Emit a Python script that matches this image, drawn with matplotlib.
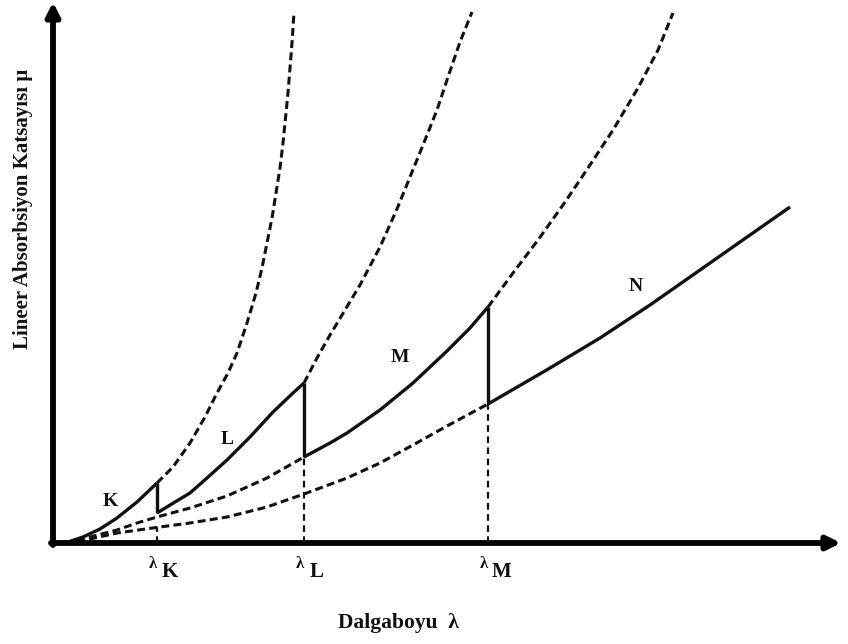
import matplotlib.pyplot as plt

# values, arbitrary units (origin at the axis corner)
k_solid_x = [12, 30, 47, 64, 84, 104]
k_solid_y = [0, 6, 14, 25, 41, 60]
k_dash_x = [104, 120, 137, 152, 164, 175, 184, 194, 203, 209, 214, 219, 223, 227, 230, 235, 239, 241]
k_dash_y = [60, 76, 100, 126, 150, 170, 190, 220, 250, 275, 300, 325, 350, 375, 400, 450, 500, 531]

l_solid_x = [104, 122, 137, 154, 174, 197, 220, 240, 251]
l_solid_y = [30, 41, 50, 65, 83, 106, 131, 150, 160]
l_dash_x = [251, 264, 277, 292, 307, 327, 344, 357, 370, 384, 395, 407, 419]
l_dash_y = [160, 185, 208, 233, 258, 296, 334, 366, 398, 433, 466, 501, 531]

m_low_x = [12, 37, 64, 84, 104, 137, 174, 214, 251]
m_low_y = [0, 6, 13, 20, 26, 35, 47, 65, 86]
m_solid_x = [251, 277, 294, 327, 360, 394, 417, 435]
m_solid_y = [86, 100, 110, 133, 160, 192, 215, 236]
m_dash_x = [435, 460, 485, 510, 535, 560, 585, 605, 620]
m_dash_y = [236, 270, 303, 338, 375, 413, 455, 493, 530]

n_low_x = [12, 37, 64, 107, 137, 174, 214, 251, 294, 327, 360, 394, 435]
n_low_y = [0, 4, 10, 16, 20, 26, 36, 49, 65, 80, 98, 117, 139]
n_solid_x = [435, 497, 547, 597, 647, 697, 737]
n_solid_y = [139, 175, 205, 238, 273, 308, 336]

# absorption edges: wavelength, bottom and top of the jump
edge_names = ['K', 'L', 'M']
edge_x = [104, 251, 435]
edge_low = [30, 86, 139]
edge_high = [60, 160, 236]
edge_guide_top = [16, 86, 139]

curve_labels = ['K', 'L', 'M', 'N']
curve_label_x = [57, 174, 347, 583]
curve_label_y = [42, 104, 185, 257]

font = 'Liberation Serif'
ink = '#111111'

fig = plt.figure(figsize=(8.48, 6.44), dpi=100)
ax = fig.add_axes([0, 0, 1, 1])
ax.set_xlim(-53, 795)
ax.set_ylim(-101, 543)
ax.axis('off')

dash = dict(color=ink, lw=2.2, linestyle=(0, (2.6, 1.4)))
solid = dict(color=ink, lw=2.4, solid_capstyle='butt', solid_joinstyle='round')

# dashed curves first, solid path on top
ax.plot(k_dash_x, k_dash_y, **dash)
ax.plot(l_dash_x, l_dash_y, **dash)
ax.plot(m_dash_x, m_dash_y, **dash)
ax.plot(m_low_x, m_low_y, **dash)
ax.plot(n_low_x, n_low_y, **dash)

for xe, top in zip(edge_x, edge_guide_top):
    ax.plot([xe, xe], [0, top], color=ink, lw=1.6, linestyle=(0, (3, 2)))

ax.plot(k_solid_x, k_solid_y, **solid)
ax.plot(l_solid_x, l_solid_y, **solid)
ax.plot(m_solid_x, m_solid_y, **solid)
ax.plot(n_solid_x, n_solid_y, **solid)
for xe, lo, hi in zip(edge_x, edge_low, edge_high):
    ax.plot([xe, xe], [lo, hi], **solid)

# axes with arrow heads
arrow = dict(arrowstyle='-|>,head_length=0.8,head_width=0.4', color='black', lw=4.2,
             shrinkA=0, shrinkB=0)
ax.annotate('', xy=(0, 541), xytext=(0, -2), arrowprops=arrow)
ax.annotate('', xy=(788, 0), xytext=(-2, 0), arrowprops=arrow)

for name, x, y in zip(curve_labels, curve_label_x, curve_label_y):
    ax.text(x, y, name, family=font, weight='bold', fontsize=14, color=ink,
            ha='center', va='center')

for name, xe in zip(edge_names, edge_x):
    ax.text(xe - 4, -21, 'λ', family=font, weight='bold', fontsize=12, color=ink,
            ha='center', va='center')
    ax.text(xe + 13, -29, name, family=font, weight='bold', fontsize=15, color=ink,
            ha='center', va='center')

ax.text(345, -80, 'Dalgaboyu  λ', family=font, weight='bold', fontsize=15.5, color=ink,
        ha='center', va='center')
ax.text(-30, 334, 'Lineer Absorbsiyon Katsayısı μ', family=font, weight='bold',
        fontsize=15, color=ink, rotation=90, ha='center', va='center')

fig.savefig('out.png', dpi=100, facecolor='white')
